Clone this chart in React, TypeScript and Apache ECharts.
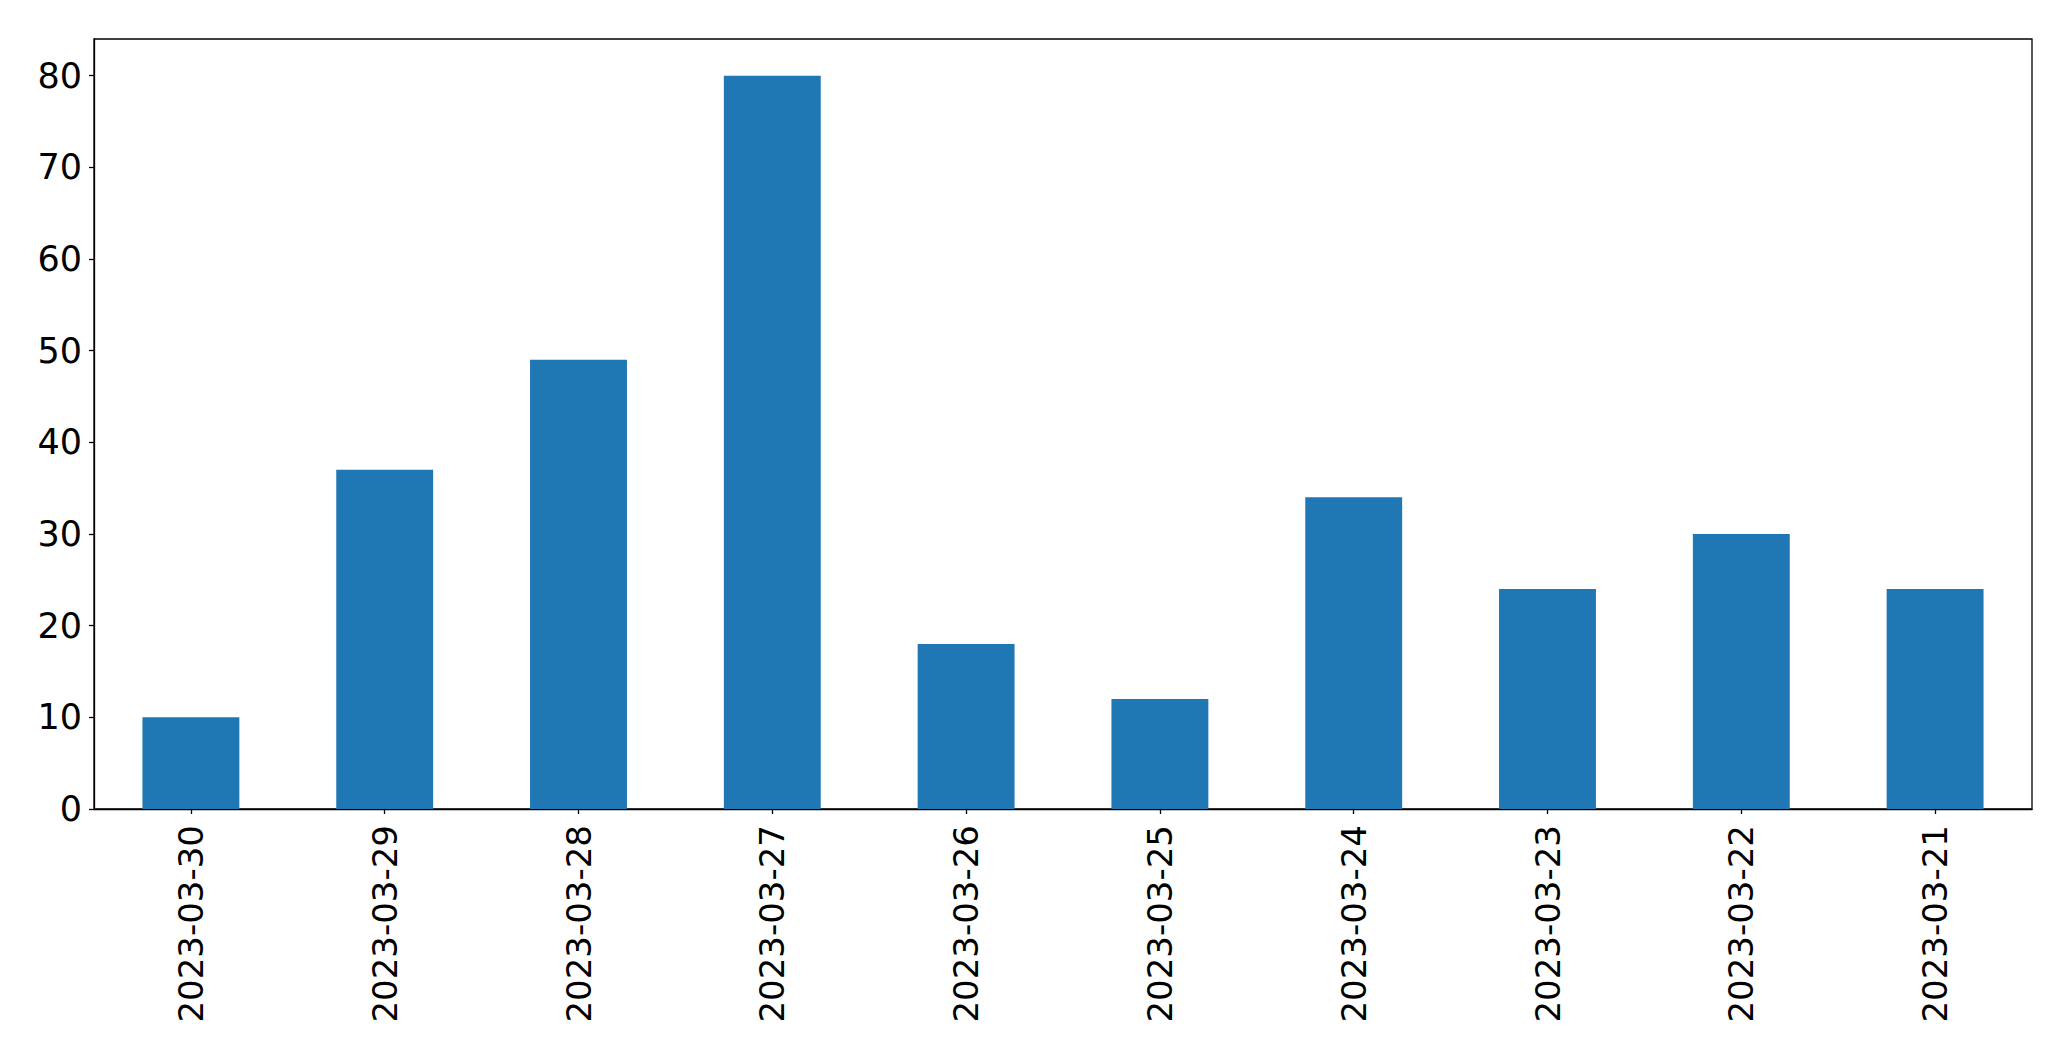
import React, { useEffect, useRef } from "react";
import * as echarts from "echarts";

const categories = [
  "2023-03-30", "2023-03-29", "2023-03-28", "2023-03-27", "2023-03-26",
  "2023-03-25", "2023-03-24", "2023-03-23", "2023-03-22", "2023-03-21",
];
const values = [10, 37, 49, 80, 18, 12, 34, 24, 30, 24];
const yTicks = [0, 10, 20, 30, 40, 50, 60, 70, 80];

export default function App() {
  const ref = useRef<HTMLDivElement>(null);
  useEffect(() => {
    if (!ref.current) return;
    const chart = echarts.init(ref.current, null, { renderer: "svg" });
    const font = "DejaVu Sans";
    chart.setOption({
      animation: false,
      backgroundColor: "#ffffff",
      grid: {
        left: 94,
        right: 39,
        top: 39,
        bottom: 252,
        show: true,
        borderColor: "#000000",
        borderWidth: 1.3,
        containLabel: false,
      },
      xAxis: {
        type: "category",
        data: categories,
        boundaryGap: true,
        axisLine: { show: true, lineStyle: { color: "#000000", width: 1.3 } },
        axisTick: { show: true, alignWithLabel: true, length: 5, lineStyle: { color: "#000000", width: 1.3 } },
        axisLabel: {
          rotate: 90,
          margin: 16,
          color: "#000000",
          fontFamily: font,
          fontSize: 34,
          interval: 0,
        },
        splitLine: { show: false },
      },
      yAxis: {
        type: "value",
        min: 0,
        max: 84,
        interval: 10,
        axisLine: { show: true, lineStyle: { color: "#000000", width: 1.3 } },
        axisTick: { show: true, length: 5, customValues: yTicks, lineStyle: { color: "#000000", width: 1.3 } },
        axisLabel: {
          margin: 12,
          color: "#000000",
          fontFamily: font,
          fontSize: 35,
          customValues: yTicks,
        },
        splitLine: { show: false },
      },
      series: [
        {
          type: "bar",
          data: values,
          barWidth: "50%",
          itemStyle: { color: "#1f77b4" },
        },
      ],
    });
    return () => chart.dispose();
  }, []);
  return (
    <div
      ref={ref}
      style={{ position: "fixed", left: 0, top: 0, width: 2071, height: 1061 }}
    />
  );
}
